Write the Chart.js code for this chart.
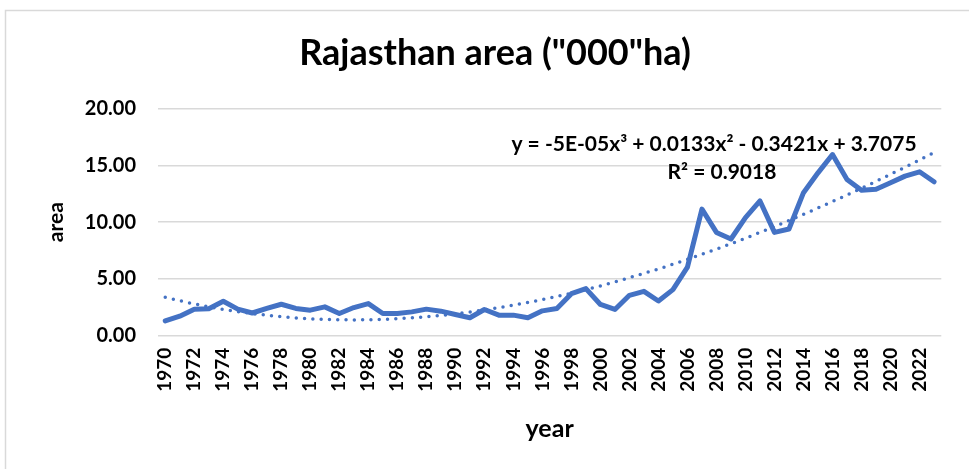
<!DOCTYPE html>
<html>
<head>
<meta charset="utf-8">
<script src="https://cdn.jsdelivr.net/npm/chart.js@4"></script>
<style>
  body { margin: 0; background: #fff; }
  #wrap { width: 969px; height: 469px; }
</style>
</head>
<body>
<div id="wrap"><canvas id="myChart"></canvas></div>
<script>
const years = ['1970','1971','1972','1973','1974','1975','1976','1977','1978','1979',
  '1980','1981','1982','1983','1984','1985','1986','1987','1988','1989',
  '1990','1991','1992','1993','1994','1995','1996','1997','1998','1999',
  '2000','2001','2002','2003','2004','2005','2006','2007','2008','2009',
  '2010','2011','2012','2013','2014','2015','2016','2017','2018','2019',
  '2020','2021','2022','2023']

const area = [1.30, 1.72, 2.34, 2.37, 3.03, 2.34, 2.00, 2.40, 2.77, 2.40,
  2.25, 2.54, 1.96, 2.48, 2.83, 1.96, 1.96, 2.10, 2.34, 2.16,
  1.87, 1.58, 2.31, 1.81, 1.81, 1.58, 2.19, 2.40, 3.70, 4.15,
  2.75, 2.31, 3.56, 3.91, 3.06, 4.06, 6.04, 11.15, 9.10, 8.52,
  10.41, 11.87, 9.10, 9.40, 12.60, 14.35, 15.96, 13.77, 12.81, 12.90,
  13.47, 14.06, 14.44, 13.56]

// dotted poly trendline
const trend = [3.38, 3.08, 2.80, 2.55, 2.32, 2.12, 1.95, 1.80, 1.67, 1.57,
  1.49, 1.43, 1.40, 1.39, 1.40, 1.43, 1.49, 1.57, 1.67, 1.79,
  1.93, 2.09, 2.27, 2.47, 2.69, 2.92, 3.18, 3.46, 3.75, 4.06,
  4.39, 4.74, 5.11, 5.49, 5.88, 6.30, 6.72, 7.17, 7.63, 8.10,
  8.59, 9.10, 9.61, 10.14, 10.69, 11.25, 11.82, 12.40, 13.00, 13.60,
  14.22, 14.85, 15.49, 16.14]

const yTicks = [0, 5, 10, 15, 20]
const titleText = 'Rajasthan area ("000"ha)'
const eqLine = 'y = -5E-05x\u00B3 + 0.0133x\u00B2 - 0.3421x + 3.7075'
const r2Line = 'R\u00B2 = 0.9018'

const blue = '#4472C4'
const font = 'Lato'

const frame = {
  id: 'frame',
  beforeDraw(chart) {
    const c = chart.ctx
    c.save()
    c.fillStyle = '#fff'
    c.fillRect(0, 0, chart.width, chart.height)
    c.strokeStyle = '#d9d9d9'
    c.lineWidth = 1.5
    c.strokeRect(5.5, 10.5, chart.width + 20, chart.height + 20)
    c.restore()
  },
  afterDraw(chart) {
    const c = chart.ctx
    const a = chart.chartArea
    c.save()
    c.fillStyle = '#000'
    c.font = 'bold 21px ' + font
    c.textAlign = 'center'
    c.textBaseline = 'middle'
    c.fillText(eqLine, a.left + 556, a.top + 36)
    c.fillText(r2Line, a.left + 564, a.top + 64)
    c.restore()
  }
}

new Chart('myChart', {
  type: 'line',
  data: {
    labels: years,
    datasets: [{
      label: 'trend',
      data: trend,
      borderColor: blue,
      borderWidth: 3.5,
      borderDash: [0, 8.3],
      borderCapStyle: 'round',
      pointRadius: 0,
      order: 0
    }, {
      label: 'area',
      data: area,
      borderColor: blue,
      borderWidth: 5,
      borderJoinStyle: 'round',
      borderCapStyle: 'round',
      pointRadius: 0,
      order: 1
    }]
  },
  options: {
    responsive: true,
    maintainAspectRatio: false,
    animation: false,
    layout: { padding: { left: 38, right: 17, top: 0, bottom: 0 } },
    plugins: {
      legend: { display: false },
      tooltip: { enabled: false },
      title: {
        display: true,
        text: titleText,
        color: '#000',
        font: { family: font, size: 36, weight: 'bold' },
        padding: { top: 32, bottom: 33.5 }
      }
    },
    scales: {
      x: {
        offset: true,
        grid: { display: false, drawTicks: false },
        border: { display: false },
        ticks: {
          autoSkip: false,
          minRotation: 90,
          maxRotation: 90,
          padding: 12,
          color: '#000',
          font: { family: font, size: 19, weight: 'bold' },
          callback: (v, i) => i % 2 === 0 ? years[i] : ''
        },
        title: {
          display: true,
          text: 'year',
          color: '#000',
          font: { family: font, size: 25, weight: 'bold' },
          padding: { top: 0, bottom: 25 }
        },
        afterFit: s => { s.height = 133.3 }
      },
      y: {
        min: yTicks[0],
        max: yTicks[yTicks.length - 1],
        afterBuildTicks: s => { s.ticks = yTicks.map(v => ({ value: v })) },
        grid: { color: '#d9d9d9', lineWidth: 1.5, drawTicks: false },
        border: { display: false },
        ticks: {
          padding: 22,
          color: '#000',
          font: { family: font, size: 20, weight: 'bold' },
          callback: v => v.toFixed(2)
        },
        title: {
          display: true,
          text: 'area',
          color: '#000',
          font: { family: font, size: 21, weight: 'bold' },
          padding: { top: 6, bottom: 0 }
        },
        afterFit: s => { s.width = 120 }
      }
    }
  },
  plugins: [frame]
})
</script>
</body>
</html>
